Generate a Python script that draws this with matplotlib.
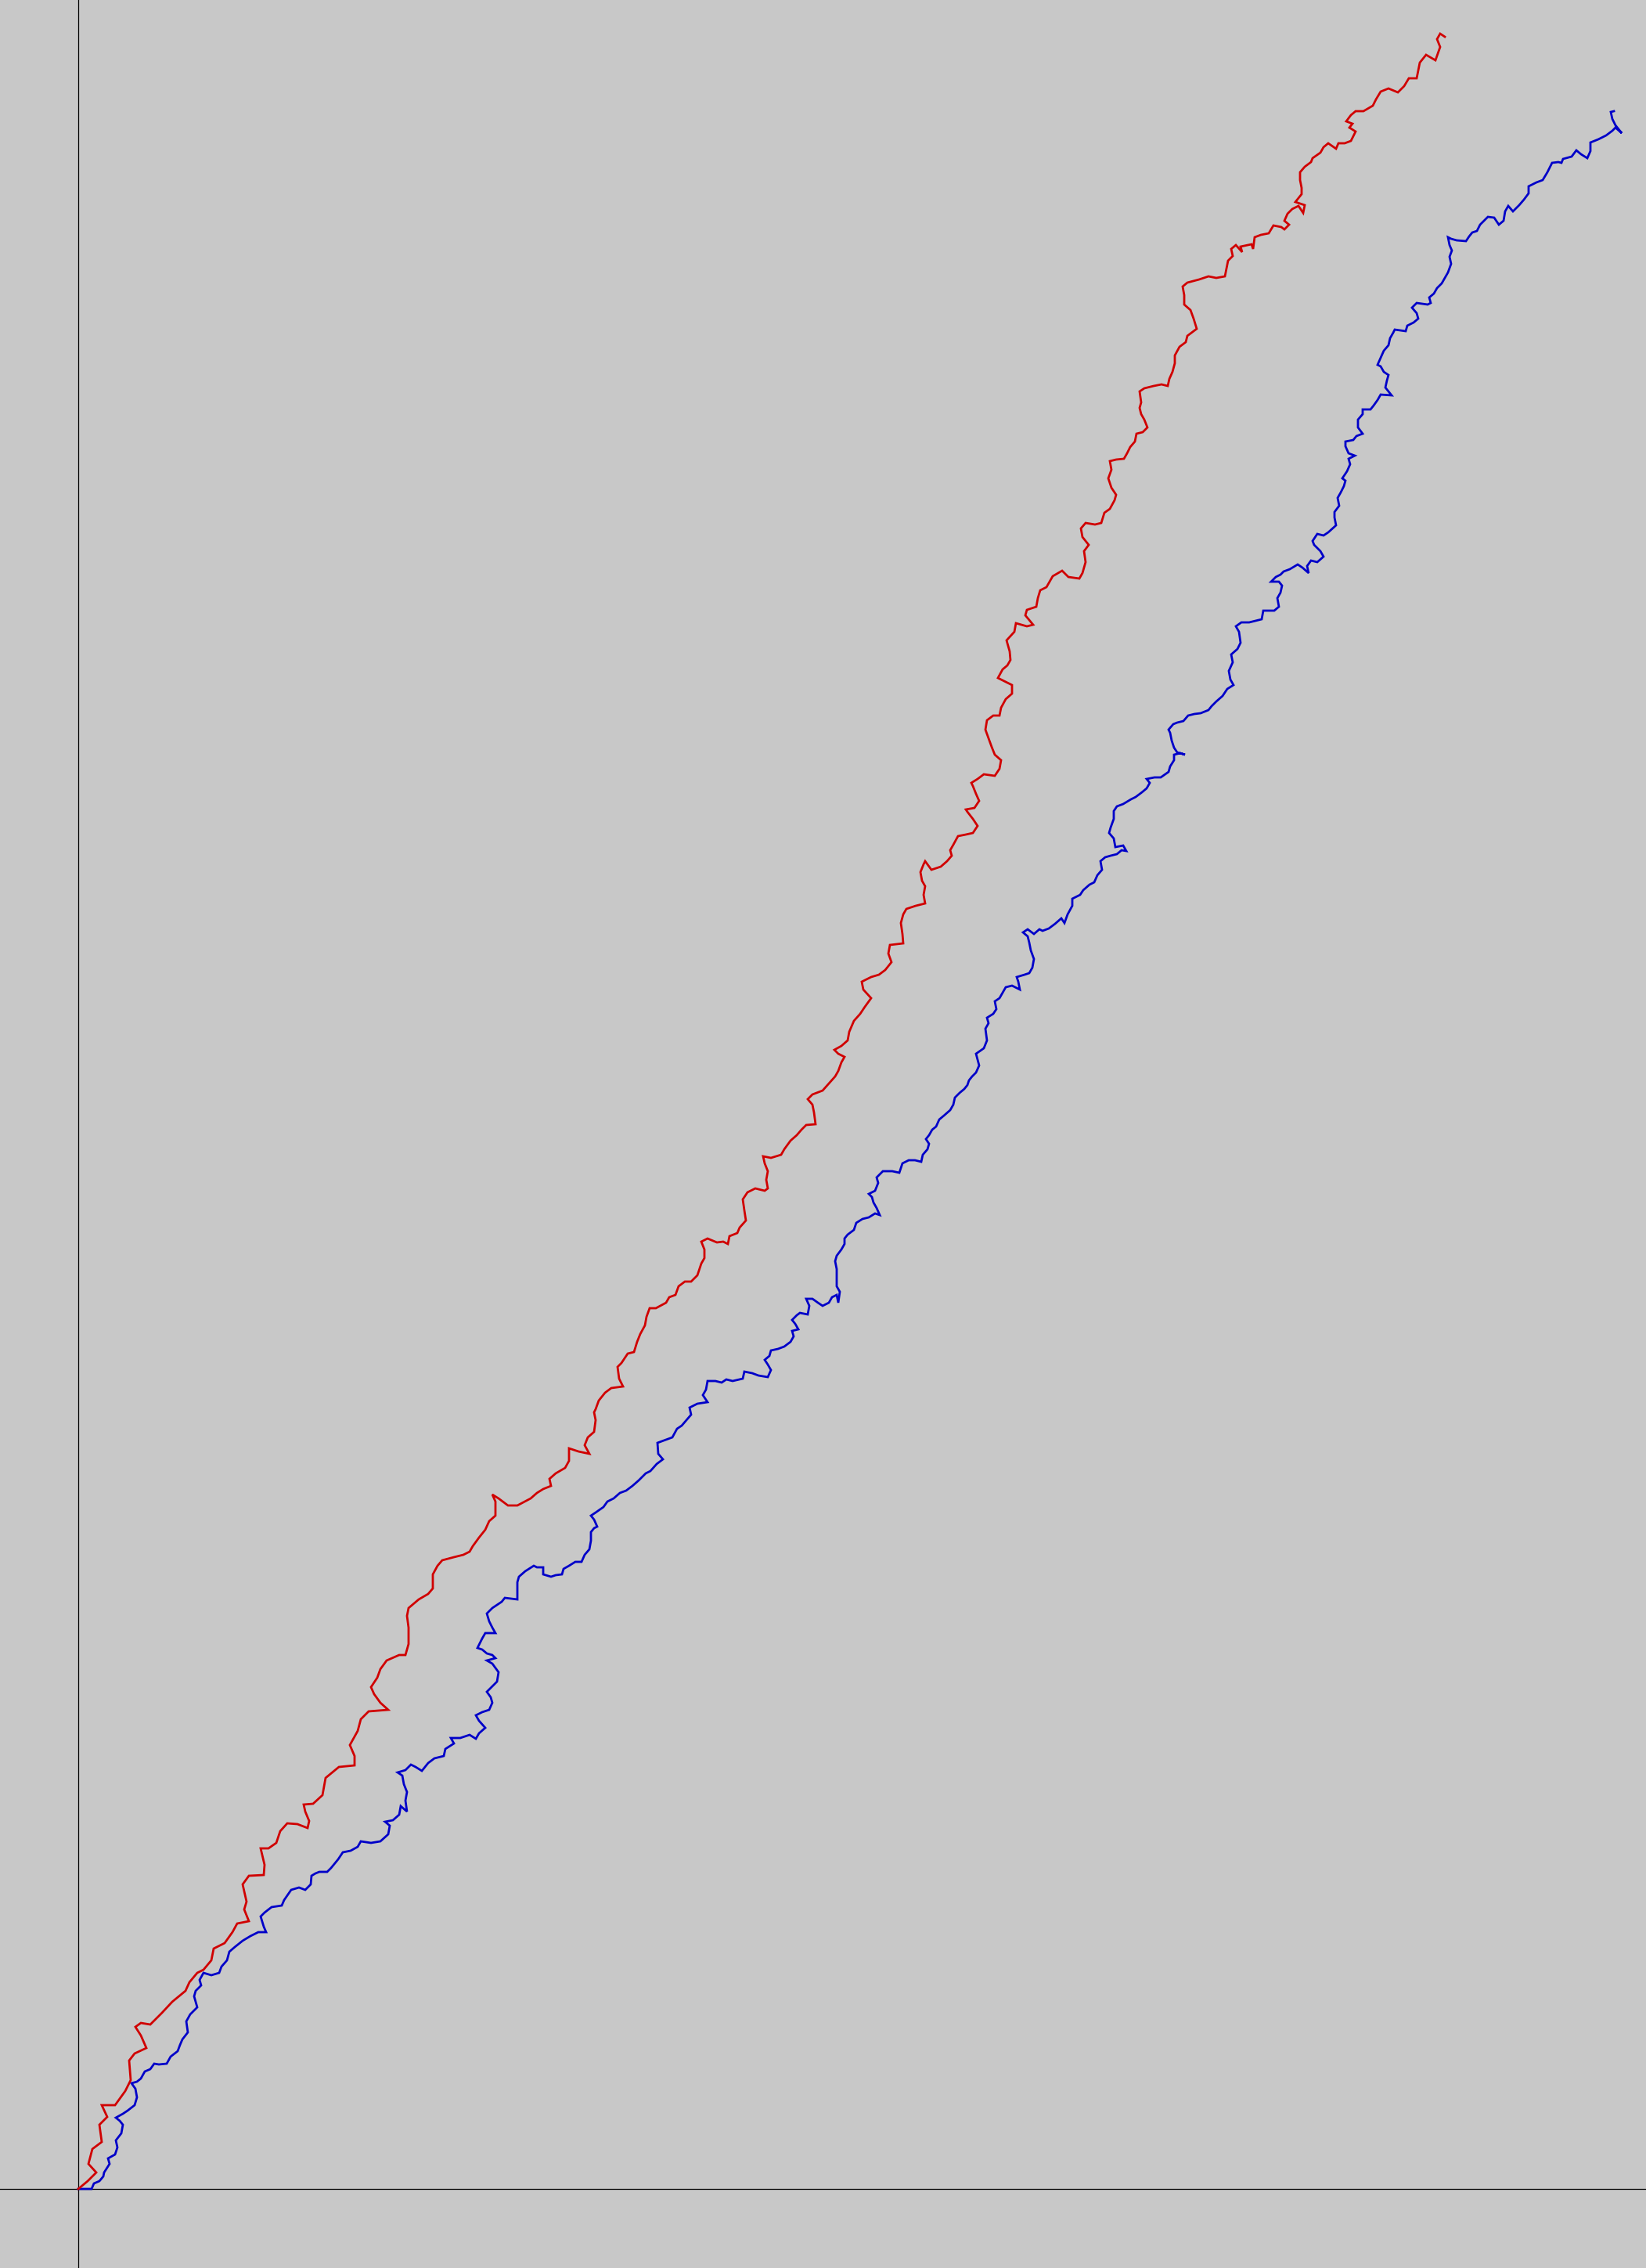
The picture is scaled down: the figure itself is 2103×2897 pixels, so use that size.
import numpy as np
import matplotlib
matplotlib.use("Agg")
import matplotlib.pyplot as plt

# two walks, (x, y) with the origin where the axes cross
red_walk = [
    (0, 0), (12, 10), (23, 21), (13, 32), (18, 51), (30, 60), (27, 82), (37, 92), (30, 107), (47, 107),
    (60, 125), (67, 139), (65, 164), (72, 173), (87, 180), (80, 196), (73, 207), (80, 212), (92, 210),
    (107, 225), (120, 239), (137, 253), (142, 264), (152, 276), (160, 280), (170, 292), (173, 307),
    (187, 314), (197, 328), (203, 339), (218, 342), (212, 357), (215, 367), (210, 389), (218, 400),
    (237, 401), (238, 414), (233, 435), (243, 435), (253, 442), (258, 457), (267, 467), (280, 466),
    (293, 461), (295, 470), (290, 482), (288, 491), (300, 492),
    (312, 503), (316, 525), (333, 539), (353, 541), (353, 553), (347, 567), (357, 585), (361, 600),
    (371, 610), (396, 612), (386, 621), (378, 632), (374, 641), (382, 653), (386, 664), (394, 675),
    (410, 682), (418, 682), (422, 696), (422, 717), (420, 732), (422, 742), (435, 753), (447, 760),
    (453, 767), (453, 785), (459, 796), (465, 803), (480, 807), (492, 810), (500, 814), (504, 821),
    (512, 832), (520, 842), (525, 853), (533, 860), (533, 878), (529, 887), (537, 882), (549, 873),
    (561, 873), (578, 882), (586, 889), (594, 894), (604, 898), (602, 907), (610, 914), (622, 921),
    (627, 930), (627, 946), (639, 942), (653, 939), (647, 950), (651, 960), (659, 967), (661, 982),
    (659, 992),
    (661, 996), (665, 1007), (673, 1017), (681, 1023), (696, 1025), (691, 1035), (689, 1050),
    (694, 1055), (702, 1067), (710, 1069), (714, 1082), (718, 1092), (724, 1103), (726, 1114),
    (730, 1125), (738, 1125), (751, 1132), (755, 1139), (763, 1142), (767, 1153), (775, 1159),
    (783, 1159), (791, 1167), (796, 1182), (800, 1189), (800, 1200), (796, 1210), (804, 1214),
    (816, 1209), (824, 1210), (830, 1207), (832, 1217), (842, 1221), (845, 1228), (853, 1237),
    (851, 1250), (849, 1264), (855, 1273), (865, 1278), (877, 1275), (881, 1278), (879, 1289),
    (881, 1300), (877, 1310), (875, 1319), (885, 1317), (898, 1321), (902, 1328), (910, 1339),
    (918, 1346), (924, 1353), (930, 1359), (942, 1360), (940, 1375), (938, 1385), (932, 1392),
    (938, 1398), (951, 1403), (959, 1412), (967, 1421), (971, 1428), (975, 1439), (979, 1446),
    (971, 1450), (966, 1455), (975, 1460), (983, 1467), (985, 1478), (991, 1492), (999, 1501),
    (1005, 1510), (1013, 1521), (1003, 1532), (1001, 1542), (1013, 1548), (1023, 1551), (1031, 1557),
    (1039, 1567), (1035, 1578), (1037, 1589), (1054, 1591), (1053, 1603), (1051, 1617), (1054, 1628),
    (1058, 1635), (1070, 1639), (1082, 1642), (1080, 1653), (1082, 1664), (1078, 1671), (1076, 1682),
    (1080, 1692), (1082, 1696), (1090, 1685), (1102, 1689), (1110, 1696), (1116, 1703), (1114, 1710),
    (1118, 1717), (1124, 1728), (1134, 1730), (1143, 1732), (1149, 1741), (1143, 1750), (1136, 1759),
    (1134, 1762), (1145, 1764), (1151, 1773), (1147, 1782), (1143, 1792), (1141, 1796), (1149, 1801),
    (1157, 1807), (1171, 1805), (1177, 1814), (1179, 1825), (1171, 1832), (1167, 1842), (1163, 1853),
    (1159, 1864), (1161, 1876), (1169, 1882), (1177, 1882), (1179, 1892), (1185, 1903), (1193, 1910),
    (1193, 1921), (1183, 1926), (1175, 1930), (1181, 1941), (1187, 1946), (1191, 1953),
    (1190, 1964), (1186, 1978), (1196, 1989), (1198, 2000), (1212, 1996), (1220, 1998), (1210, 2010),
    (1212, 2017), (1224, 2021), (1226, 2032), (1229, 2042), (1237, 2046), (1245, 2060), (1257, 2067),
    (1265, 2059), (1279, 2057), (1283, 2064), (1287, 2078), (1285, 2092), (1291, 2100), (1283, 2110),
    (1281, 2121), (1287, 2128), (1299, 2126), (1307, 2128), (1311, 2141), (1318, 2146), (1324, 2157),
    (1326, 2164), (1320, 2173), (1316, 2185), (1320, 2196), (1318, 2207), (1326, 2209), (1336, 2210),
    (1340, 2217), (1344, 2225), (1350, 2232), (1352, 2242), (1360, 2244), (1366, 2250), (1362, 2260),
    (1358, 2267), (1356, 2275), (1358, 2282), (1356, 2296), (1362, 2300), (1374, 2303), (1384, 2305),
    (1392, 2303), (1394, 2312), (1398, 2321), (1401, 2332), (1401, 2342), (1407, 2353), (1415, 2359),
    (1417, 2367), (1425, 2373), (1429, 2376), (1425, 2389), (1421, 2400), (1413, 2407), (1413, 2419),
    (1411, 2430), (1417, 2435),
    (1432, 2439), (1444, 2443), (1454, 2441), (1465, 2443), (1467, 2453), (1469, 2463), (1475, 2469),
    (1473, 2478), (1479, 2483), (1487, 2474), (1485, 2481), (1499, 2484), (1501, 2478), (1503, 2493),
    (1511, 2496), (1521, 2498), (1527, 2508), (1537, 2506), (1541, 2503), (1547, 2509), (1541, 2514),
    (1545, 2523), (1551, 2529), (1559, 2533), (1565, 2524), (1567, 2534), (1555, 2538), (1563, 2548),
    (1563, 2556), (1561, 2566), (1561, 2576), (1567, 2583), (1575, 2589), (1577, 2594), (1587, 2601),
    (1591, 2608), (1597, 2613), (1607, 2606), (1610, 2613), (1618, 2613), (1626, 2616), (1632, 2628),
    (1624, 2633), (1628, 2638), (1620, 2641), (1626, 2649), (1632, 2654), (1642, 2654), (1654, 2661),
    (1658, 2669), (1664, 2679), (1674, 2683), (1686, 2678), (1694, 2686), (1700, 2696), (1710, 2696),
    (1714, 2716), (1722, 2726), (1734, 2719), (1740, 2736), (1736, 2746), (1740, 2753), (1746, 2749),
]

blue_walk = [
    (0, 0), (17, 0), (20, 7), (27, 10), (32, 16), (33, 21), (40, 32), (38, 39), (47, 44), (50, 53),
    (48, 62), (55, 71), (57, 82), (53, 87), (48, 91), (57, 96), (63, 100), (72, 107), (75, 117),
    (73, 128), (68, 135), (75, 137), (80, 141), (85, 150), (92, 153), (97, 160), (103, 159), (113, 160),
    (118, 169), (127, 176), (130, 184), (133, 191), (140, 200), (138, 214), (143, 223), (152, 232),
    (148, 246), (150, 253), (157, 260), (155, 267), (160, 276), (170, 273), (180, 276), (183, 284),
    (190, 292), (193, 303), (200, 309), (210, 317), (220, 323), (230, 328), (240, 328), (237, 335),
    (233, 348), (238, 353), (247, 360), (260, 362), (263, 369), (272, 382), (282, 385), (290, 382),
    (297, 389), (298, 400), (303, 403), (308, 405), (318, 405), (323, 410), (332, 421), (338, 430),
    (348, 432), (357, 437),
    (361, 444), (374, 442), (386, 444), (396, 453), (398, 464), (392, 469), (402, 471), (410, 478),
    (412, 489), (420, 482), (418, 496), (420, 507), (416, 517), (414, 528), (408, 532), (418, 535),
    (425, 542), (431, 539), (439, 534), (447, 544), (455, 550), (467, 553), (469, 562), (480, 569),
    (476, 576), (488, 576), (500, 580), (508, 575), (512, 582), (520, 589), (512, 598), (508, 605),
    (516, 609), (525, 612), (529, 621), (527, 628), (522, 635), (529, 642), (535, 648), (537, 660),
    (529, 671), (522, 675), (533, 678), (529, 682), (522, 684), (516, 689), (510, 691), (516, 703),
    (520, 710), (533, 710), (529, 717), (525, 725), (522, 735), (529, 742), (541, 750), (545, 755),
    (561, 753), (561, 764), (561, 775), (563, 782), (571, 789), (582, 796), (586, 794), (594, 794),
    (594, 785), (604, 782), (610, 784), (618, 785), (620, 792), (627, 796), (635, 801), (643, 801),
    (647, 810), (653, 817), (655, 828), (655, 839), (659, 844), (663, 846), (659, 855), (655, 860),
    (661, 864), (671, 871), (676, 878), (684, 882), (692, 889), (700, 892), (708, 898), (716, 905),
    (725, 914), (731, 917), (739, 926), (747, 932), (741, 939),
    (740, 953), (751, 957), (759, 960), (765, 971), (771, 975), (777, 982), (783, 989), (781, 998),
    (791, 1003), (804, 1005), (798, 1014), (802, 1021), (804, 1032), (814, 1032), (822, 1030),
    (828, 1034), (836, 1032), (849, 1035), (851, 1044), (861, 1042), (869, 1039), (881, 1037),
    (885, 1046), (881, 1053), (877, 1059), (883, 1064), (885, 1071), (894, 1073), (902, 1076),
    (910, 1082), (914, 1089), (912, 1096), (920, 1098), (916, 1105), (912, 1110), (918, 1116),
    (922, 1119), (932, 1117), (934, 1128), (930, 1137), (938, 1137), (945, 1132), (951, 1128),
    (959, 1132), (963, 1139), (969, 1142), (971, 1132), (973, 1146), (969, 1153), (969, 1164),
    (969, 1175), (967, 1185), (969, 1192), (975, 1200), (979, 1207), (979, 1214), (983, 1219),
    (991, 1225), (994, 1234), (1002, 1239), (1010, 1241), (1018, 1246), (1024, 1244), (1020, 1253),
    (1016, 1260), (1014, 1267), (1010, 1271), (1018, 1275), (1022, 1285), (1020, 1292), (1028, 1300),
    (1040, 1300), (1049, 1298), (1053, 1310), (1061, 1314), (1069, 1314), (1077, 1312), (1079, 1321),
    (1085, 1328), (1087, 1335), (1083, 1341), (1087, 1346), (1091, 1353), (1096, 1357), (1100, 1366),
    (1106, 1371), (1114, 1378), (1118, 1385), (1120, 1394), (1126, 1400), (1132, 1405), (1136, 1410),
    (1138, 1416), (1142, 1421), (1147, 1426), (1151, 1435),
    (1147, 1450), (1157, 1457), (1161, 1467), (1159, 1482), (1163, 1489), (1161, 1496), (1169, 1501),
    (1173, 1507), (1171, 1517), (1177, 1521), (1181, 1528), (1185, 1535), (1193, 1537), (1203, 1532),
    (1201, 1542), (1199, 1548), (1209, 1551), (1215, 1553), (1219, 1560), (1221, 1571), (1217, 1582),
    (1215, 1592), (1213, 1600), (1207, 1605), (1213, 1609), (1221, 1603), (1228, 1609), (1232, 1607),
    (1240, 1610), (1248, 1616), (1256, 1623), (1260, 1617), (1264, 1628), (1270, 1639), (1270, 1648),
    (1274, 1650), (1280, 1653), (1284, 1659), (1292, 1666), (1298, 1669), (1302, 1678), (1308, 1685),
    (1306, 1696), (1312, 1701), (1319, 1703), (1327, 1705), (1333, 1710), (1339, 1709), (1335, 1716),
    (1325, 1714), (1323, 1725), (1317, 1732), (1319, 1739), (1323, 1750), (1323, 1760), (1327, 1766),
    (1335, 1769), (1345, 1775), (1351, 1778), (1359, 1784), (1365, 1789), (1369, 1796), (1365, 1801),
    (1375, 1803), (1383, 1803), (1393, 1810), (1395, 1817), (1400, 1825), (1400, 1832), (1408, 1834),
    (1414, 1832), (1404, 1835), (1400, 1841), (1397, 1850), (1395, 1860), (1393, 1864), (1399, 1871),
    (1404, 1873), (1412, 1875), (1418, 1882), (1426, 1884), (1434, 1885), (1444, 1889), (1448, 1894),
    (1454, 1900), (1462, 1907), (1468, 1916), (1476, 1921), (1472, 1928), (1470, 1939),
    (1475, 1950), (1473, 1960), (1481, 1967), (1485, 1975), (1483, 1989), (1479, 1996), (1486, 2001),
    (1496, 2001), (1504, 2003), (1512, 2005), (1514, 2016), (1520, 2016), (1528, 2016), (1534, 2021),
    (1532, 2032), (1536, 2039), (1538, 2048), (1534, 2053), (1524, 2053), (1530, 2059), (1536, 2062),
    (1540, 2066), (1548, 2069), (1558, 2075), (1564, 2071), (1572, 2064), (1570, 2073), (1575, 2080),
    (1583, 2078), (1591, 2085), (1587, 2092), (1583, 2096), (1579, 2100), (1577, 2105), (1583, 2114),
    (1591, 2112), (1597, 2116), (1607, 2125), (1605, 2135), (1605, 2142), (1611, 2150), (1609, 2160),
    (1613, 2167), (1617, 2175), (1619, 2182), (1615, 2185), (1621, 2194), (1625, 2203), (1623, 2210),
    (1631, 2214), (1623, 2217), (1619, 2226), (1619, 2232), (1629, 2234), (1633, 2239), (1641, 2242),
    (1635, 2250), (1635, 2260), (1641, 2267), (1641, 2273), (1651, 2273), (1655, 2278), (1660, 2285),
    (1664, 2292), (1678, 2291), (1670, 2301), (1672, 2310), (1674, 2317), (1668, 2321), (1664, 2328),
    (1660, 2330), (1664, 2339), (1668, 2348), (1674, 2355), (1676, 2364), (1680, 2371), (1682, 2375),
    (1696, 2373), (1698, 2380), (1706, 2384), (1712, 2389), (1710, 2396), (1704, 2403), (1710, 2409),
    (1724, 2407), (1728, 2409), (1726, 2416), (1732, 2421), (1736, 2428), (1742, 2434),
    (1750, 2448), (1754, 2459), (1752, 2468), (1755, 2476), (1752, 2483), (1750, 2493), (1754, 2491),
    (1761, 2489), (1773, 2488), (1777, 2494), (1781, 2499), (1787, 2501), (1791, 2509), (1801, 2519),
    (1809, 2518), (1815, 2509), (1821, 2514), (1823, 2526), (1827, 2533), (1833, 2526), (1841, 2534),
    (1847, 2541), (1853, 2549), (1853, 2558), (1863, 2563), (1871, 2566), (1877, 2576), (1883, 2588),
    (1891, 2589), (1895, 2588), (1897, 2593), (1908, 2596), (1914, 2604), (1920, 2599), (1928, 2594),
    (1932, 2603), (1932, 2614), (1942, 2618), (1952, 2623), (1960, 2629), (1964, 2633), (1972, 2626),
    (1964, 2636), (1960, 2644), (1958, 2653), (1962, 2654),
]

# view window around the origin
X_MIN, X_MAX = -100, 2003
Y_MIN, Y_MAX = -101, 2796

BG = "#c8c8c8"

red = np.array(red_walk)
blue = np.array(blue_walk)

fig = plt.figure(figsize=(21.03, 28.97), dpi=100, facecolor=BG)
ax = fig.add_axes([0, 0, 1, 1])
ax.set_facecolor(BG)

ax.axhline(0, color="black", lw=0.9, zorder=1)
ax.axvline(0, color="black", lw=0.9, zorder=1)

ax.plot(red[:, 0], red[:, 1], color="#d00000", lw=2.0, zorder=3,
        solid_joinstyle="miter")
ax.plot(blue[:, 0], blue[:, 1], color="#0000c8", lw=2.0, zorder=2,
        solid_joinstyle="miter")

ax.set_xlim(X_MIN, X_MAX)
ax.set_ylim(Y_MIN, Y_MAX)
ax.axis("off")

fig.savefig("out.png", dpi=100, facecolor=BG)
